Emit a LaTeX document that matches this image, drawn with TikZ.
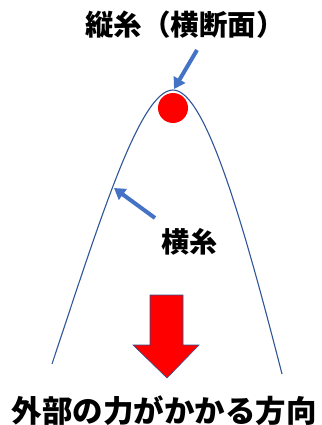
\documentclass[tikz,border=0pt]{standalone}
\usepackage{fontspec}
\newfontfamily\cjk{Noto Sans CJK JP}
\usetikzlibrary{arrows.meta}
\definecolor{curveblue}{RGB}{47,85,151}
\definecolor{arrowblue}{RGB}{68,114,196}
\definecolor{outlineblue}{RGB}{47,82,143}
\tikzset{
  lbl/.style={inner sep=0pt, font=\cjk\bfseries},
  ptr/.style={draw=arrowblue, line width=4pt, -{Triangle[width=13pt,length=11pt]}},
  thread/.style={draw=curveblue, line width=1.1pt}
}
\begin{document}
\begin{tikzpicture}[x=1pt,y=-1pt]
\useasboundingbox (0,0) rectangle (321,425);
% weft thread (curve)
\coordinate (L) at (52,364);
\coordinate (A) at (173,90);
\coordinate (R) at (282,374);
\draw[thread] (L) .. controls (100,220) and (140,90) .. (A)
  .. controls (206,90) and (245,230) .. (R);
% warp thread cross-section
\fill[red] (173,108) circle (15);
% labels
\node[lbl, font=\cjk\bfseries\fontsize{28.5}{28.5}\selectfont] (warp) at (185,25) {縦糸（横断面）};
\node[lbl, font=\cjk\bfseries\fontsize{28}{28}\selectfont] (weft) at (189,242) {横糸};
\node[lbl, font=\cjk\bfseries\fontsize{30.5}{30.5}\selectfont] (force) at (164,411) {外部の力がかかる方向};
% pointer arrows
\coordinate (p1s) at (197,50);
\coordinate (p1e) at (174,89);
\coordinate (p2s) at (155,218);
\coordinate (p2e) at (114,188);
\draw[ptr] (p1s) -- (p1e);
\draw[ptr] (p2s) -- (p2e);
% red block arrow
\draw[fill=red, draw=outlineblue, line width=0.6pt]
  (150,295) -- (183,295) -- (183,345) -- (199,345) -- (167,378)
  -- (133,345) -- (150,345) -- cycle;
\end{tikzpicture}
\end{document}
